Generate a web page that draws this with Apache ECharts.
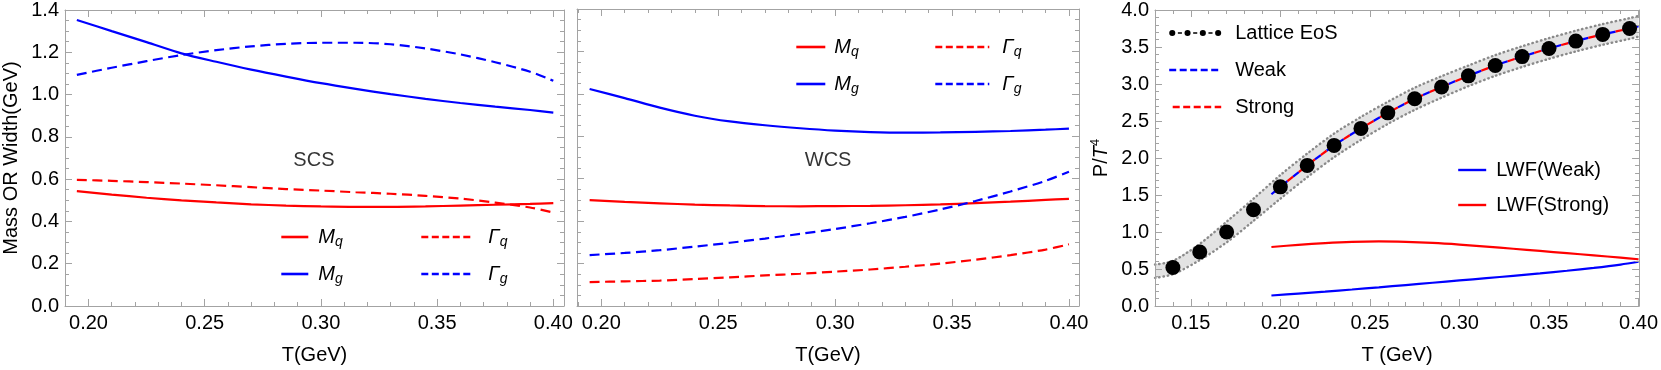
<!DOCTYPE html>
<html><head><meta charset="utf-8">
<script src="https://cdn.jsdelivr.net/npm/echarts@6/dist/echarts.min.js"></script>
<style>html,body{margin:0;padding:0;background:#fff}#c{width:1661px;height:370px}</style>
</head><body><div id="c"></div>
<script>
// ---------- data ----------
const tCurve = [0.195,0.21,0.225,0.24,0.255,0.27,0.285,0.30,0.315,0.33,0.345,0.36,0.375,0.39,0.40];
// SCS panel
const scsMq = [0.543,0.527,0.512,0.500,0.490,0.481,0.475,0.471,0.469,0.469,0.471,0.475,0.479,0.483,0.487];
const scsMg = [1.353,1.300,1.248,1.195,1.155,1.118,1.085,1.054,1.027,1.002,0.980,0.960,0.943,0.927,0.915];
const scsGq = [0.597,0.592,0.586,0.579,0.571,0.562,0.553,0.546,0.538,0.531,0.521,0.508,0.489,0.466,0.442];
const scsGg = [1.093,1.127,1.158,1.187,1.210,1.228,1.240,1.245,1.245,1.238,1.218,1.190,1.153,1.108,1.065];
// WCS panel
const wcsMq = [0.499,0.491,0.484,0.478,0.474,0.471,0.470,0.471,0.472,0.475,0.479,0.485,0.492,0.500,0.505];
const wcsMg = [1.023,0.980,0.935,0.897,0.870,0.852,0.838,0.827,0.820,0.817,0.818,0.821,0.825,0.831,0.836];
const wcsGq = [0.113,0.116,0.120,0.127,0.135,0.144,0.152,0.162,0.172,0.185,0.200,0.218,0.240,0.266,0.291];
const wcsGg = [0.240,0.250,0.263,0.280,0.298,0.318,0.340,0.363,0.390,0.420,0.455,0.495,0.540,0.590,0.633];
// EoS panel
const latticeT = [0.14,0.155,0.17,0.185,0.20,0.215,0.23,0.245,0.26,0.275,0.29,0.305,0.32,0.335,0.35,0.365,0.38,0.395];
const latticeP = [0.52,0.73,1.00,1.30,1.61,1.90,2.17,2.40,2.61,2.80,2.96,3.11,3.25,3.37,3.48,3.58,3.67,3.75];
const bandT    = [0.13,0.14,0.155,0.17,0.185,0.20,0.215,0.23,0.245,0.26,0.275,0.29,0.305,0.32,0.335,0.35,0.365,0.38,0.395,0.40];
const bandHigh = [0.56,0.61,0.84,1.14,1.45,1.77,2.06,2.33,2.555,2.76,2.95,3.105,3.25,3.39,3.51,3.62,3.72,3.81,3.89,3.92];
const bandLow  = [0.38,0.43,0.62,0.86,1.15,1.45,1.74,2.01,2.245,2.46,2.65,2.815,2.97,3.11,3.23,3.34,3.44,3.53,3.61,3.64];
const fitT    = [0.195,0.20,0.215,0.23,0.245,0.26,0.275,0.29,0.305,0.32,0.335,0.35,0.365,0.38,0.395,0.40];
const weakP   = [1.51,1.61,1.90,2.17,2.40,2.61,2.80,2.96,3.11,3.25,3.37,3.48,3.58,3.67,3.75,3.78];
const strongP = [1.51,1.61,1.90,2.17,2.40,2.61,2.80,2.96,3.11,3.25,3.37,3.48,3.58,3.67,3.75,3.78];
const lwfWeak   = [0.142,0.168,0.195,0.223,0.252,0.283,0.314,0.345,0.376,0.408,0.440,0.476,0.515,0.560,0.598];
const lwfStrong = [0.797,0.827,0.850,0.866,0.872,0.866,0.852,0.830,0.803,0.774,0.744,0.714,0.684,0.653,0.632];
// annotation positions (data coords)
const annT = [0.297], annY = [0.688];
// ticks
const xTicksMass = [0.20,0.25,0.30,0.35,0.40];
const xMinorMass = [0.19,0.21,0.22,0.23,0.24,0.26,0.27,0.28,0.29,0.31,0.32,0.33,0.34,0.36,0.37,0.38,0.39];
const xTicksEoS  = [0.15,0.20,0.25,0.30,0.35,0.40];
const xMinorEoS  = [0.13,0.14,0.16,0.17,0.18,0.19,0.21,0.22,0.23,0.24,0.26,0.27,0.28,0.29,0.31,0.32,0.33,0.34,0.36,0.37,0.38,0.39];
const yTicksMass = [0.0,0.2,0.4,0.6,0.8,1.0,1.2,1.4];
const yTicksEoS  = [0.0,0.5,1.0,1.5,2.0,2.5,3.0,3.5,4.0];

// ---------- styling ----------
const FONT = 'Liberation Sans, Arial, Helvetica, sans-serif';
const FRAME = '#a3a3a3';
const RED = '#ff0000', BLUE = '#0000ff';
const DASH = [10, 5.5];
const TICKFONT = 20;

const zip = (xs, ys) => xs.map((x, i) => [x, ys[i]]);

function xAxes(gi, min, max, major, minor, name) {
  const base = {type:'value', gridIndex:gi, min, max, splitLine:{show:false}, z:5};
  const tickStyle = {color:FRAME, width:1};
  return [
    Object.assign({}, base, {position:'bottom',
      axisLine:{show:true, lineStyle:{color:FRAME, width:1}},
      axisTick:{show:true, inside:true, length:7, customValues:major, lineStyle:tickStyle},
      axisLabel:{show:true, customValues:major, formatter:v=>v.toFixed(2), fontSize:TICKFONT, fontFamily:FONT, color:'#000', margin:7},
      name, nameLocation:'middle', nameGap:39, nameTextStyle:{fontSize:20, fontFamily:FONT, color:'#000'}}),
    Object.assign({}, base, {position:'bottom', axisLine:{show:false},
      axisTick:{show:true, inside:true, length:4, customValues:minor, lineStyle:tickStyle},
      axisLabel:{show:false}}),
    Object.assign({}, base, {position:'top',
      axisLine:{show:true, lineStyle:{color:FRAME, width:1}},
      axisTick:{show:true, inside:true, length:7, customValues:major, lineStyle:tickStyle},
      axisLabel:{show:false}}),
    Object.assign({}, base, {position:'top', axisLine:{show:false},
      axisTick:{show:true, inside:true, length:4, customValues:minor, lineStyle:tickStyle},
      axisLabel:{show:false}})
  ];
}
function yAxes(gi, ticks, minorSplit, showLabels, name, nameGap, nameRich) {
  const base = {type:'value', gridIndex:gi, min:ticks[0], max:ticks[ticks.length-1],
    interval:ticks[1]-ticks[0], splitLine:{show:false}, minorSplitLine:{show:false}, z:5,
    axisLine:{show:true, lineStyle:{color:FRAME, width:1}},
    axisTick:{show:true, inside:true, length:7, lineStyle:{color:FRAME, width:1}},
    minorTick:{show:true, splitNumber:minorSplit, length:4, lineStyle:{color:FRAME, width:1}}};
  const left = Object.assign({}, base, {position:'left',
    axisLabel:{show:showLabels, formatter:v=>v.toFixed(1), fontSize:TICKFONT, fontFamily:FONT, color:'#000', margin:6}});
  if (name) {
    Object.assign(left, {name, nameLocation:'middle', nameGap, nameRotate:90,
      nameTextStyle:{fontSize:20, fontFamily:FONT, color:'#000', rich:nameRich||{}}});
  }
  const right = Object.assign({}, base, {position:'right', axisLabel:{show:false}});
  return [left, right];
}

const LBL = {'Mq':'{i|M}{s|q}', 'Mg':'{i|M}{s|g}', 'Γq':'{i|Γ}{s|q}', 'Γg':'{i|Γ}{s|g}'};
function legend(left, top, data, w, gap, pad, lineStyle) {
  return {show:true, orient:'vertical', left, top, padding:0, itemGap:gap, itemWidth:w, itemHeight:10,
    selectedMode:false, data, formatter:n=>'{p|}' + (LBL[n] || n), lineStyle,
    itemStyle:{opacity:0},
    textStyle:{fontSize:20, fontFamily:FONT, color:'#000', lineHeight:24,
      rich:{p:{width:pad},
        i:{fontSize:20, fontStyle:'italic', lineHeight:24, fontFamily:FONT, color:'#000'},
        s:{fontSize:14, fontStyle:'italic', lineHeight:14, verticalAlign:'bottom', fontFamily:FONT, color:'#000'}}}};
}
const LATTICE_ICON = 'path://M0,3a3,3 0 1,0 6,0a3,3 0 1,0 -6,0Z M15,3a3,3 0 1,0 6,0a3,3 0 1,0 -6,0Z M30,3a3,3 0 1,0 6,0a3,3 0 1,0 -6,0Z M45,3a3,3 0 1,0 6,0a3,3 0 1,0 -6,0Z M8.5,2.3h4v1.4h-4Z M23.5,2.3h4v1.4h-4Z M38.5,2.3h4v1.4h-4Z';

function line(name, xi, yi, xs, ys, color, type, extra) {
  return Object.assign({type:'line', name, xAxisIndex:xi, yAxisIndex:yi, data:zip(xs, ys),
    symbol:'none', smooth:0.3, clip:true, z:3, silent:true,
    lineStyle:{color, width:2.2, type}, itemStyle:{color}}, extra||{});
}
function annotation(text, xi, yi) {
  return {type:'scatter', xAxisIndex:xi, yAxisIndex:yi, data:zip(annT, annY), symbolSize:1, silent:true,
    itemStyle:{color:'rgba(0,0,0,0)'},
    label:{show:true, position:'inside', formatter:text, fontSize:20, fontFamily:FONT, color:'#000'}};
}

const option = {
  animation:false,
  backgroundColor:'#fff',
  grid:[
    {left:62, top:9, width:502, height:301},
    {left:577, top:9, width:502, height:301},
    {left:1155, top:9, width:501, height:301}
  ],
  xAxis:[].concat(
    xAxes(0, 0.1899, 0.4046, xTicksMass, xMinorMass, 'T(GeV)'),
    xAxes(1, 0.1896, 0.4043, xTicksMass, xMinorMass, 'T(GeV)'),
    xAxes(2, 0.1300, 0.4003, xTicksEoS, xMinorEoS, 'T (GeV)')
  ),
  yAxis:[].concat(
    yAxes(0, yTicksMass, 4, true, 'Mass OR Width(GeV)', 44),
    yAxes(1, yTicksMass, 4, false),
    yAxes(2, yTicksEoS, 5, true, '{r|P/}{t|T}{u|4}', 42, {
      r:{fontSize:20, lineHeight:24, fontFamily:FONT, color:'#000'},
      t:{fontSize:20, lineHeight:24, fontStyle:'italic', fontFamily:FONT, color:'#000'},
      u:{fontSize:13, lineHeight:14, verticalAlign:'top', fontFamily:FONT, color:'#000'}})
  ),
  legend:[
    legend(280, 225, ['Mq','Mg'], 27, 13, 5, {width:2.6}),
    legend(420, 225, ['Γq','Γg'], 52, 13, 10, {width:2.6, type:[7,3.5]}),
    legend(795, 35, ['Mq','Mg'], 29, 13, 4, {width:2.6}),
    legend(934, 35, ['Γq','Γg'], 54, 13, 8, {width:2.6, type:[7,3.5]}),
    legend(1168, 21, [{name:'Lattice EoS', icon:LATTICE_ICON, itemStyle:{opacity:1, color:'#000'}}, 'Weak', 'Strong'], 52, 13, 9, {width:2.4, type:[7,3.5]}),
    legend(1457, 158, ['LWF(Weak)','LWF(Strong)'], 28, 11, 5, {width:2.4})
  ],
  series:[
    // SCS
    line('Mq', 0, 0, tCurve, scsMq, RED, 'solid'),
    line('Mg', 0, 0, tCurve, scsMg, BLUE, 'solid'),
    line('Γq', 0, 0, tCurve, scsGq, RED, DASH),
    line('Γg', 0, 0, tCurve, scsGg, BLUE, DASH),
    annotation('SCS', 0, 0),
    // WCS
    line('Mq', 4, 2, tCurve, wcsMq, RED, 'solid'),
    line('Mg', 4, 2, tCurve, wcsMg, BLUE, 'solid'),
    line('Γq', 4, 2, tCurve, wcsGq, RED, DASH),
    line('Γg', 4, 2, tCurve, wcsGg, BLUE, DASH),
    annotation('WCS', 4, 2),
    // EoS band
    {type:'custom', xAxisIndex:8, yAxisIndex:4, data:[[bandT[0], bandLow[0]]], silent:true, z:1, clip:true,
      renderItem:function(params, api){
        const pts = [];
        for (let i = 0; i < bandT.length; i++) pts.push(api.coord([bandT[i], bandHigh[i]]));
        for (let i = bandT.length - 1; i >= 0; i--) pts.push(api.coord([bandT[i], bandLow[i]]));
        return {type:'polygon', shape:{points:pts}, style:{fill:'#e3e3e3', stroke:null}};
      }},
    line('bandHigh', 8, 4, bandT, bandHigh, '#8a8a8a', [0.5, 3.8], {z:2, lineStyle:{color:'#8a8a8a', width:2.4, type:[0.5,3.8], cap:'round'}}),
    line('bandLow', 8, 4, bandT, bandLow, '#8a8a8a', [0.5, 3.8], {z:2, lineStyle:{color:'#8a8a8a', width:2.4, type:[0.5,3.8], cap:'round'}}),
    line('Weak', 8, 4, fitT, weakP, BLUE, [7,7], {z:3, lineStyle:{color:BLUE, width:2.2, type:[7,7]}}),
    line('Strong', 8, 4, fitT, strongP, RED, [7,7], {z:3, lineStyle:{color:RED, width:2.2, type:[7,7], dashOffset:7}}),
    {type:'scatter', name:'Lattice EoS', xAxisIndex:8, yAxisIndex:4, data:zip(latticeT, latticeP),
      symbol:'circle', symbolSize:15, itemStyle:{color:'#000', opacity:1}, z:6, silent:true},
    line('LWF(Weak)', 8, 4, tCurve, lwfWeak, BLUE, 'solid'),
    line('LWF(Strong)', 8, 4, tCurve, lwfStrong, RED, 'solid')
  ]
};
const chart = echarts.init(document.getElementById('c'), null, {renderer:'canvas', width:1661, height:370});
chart.setOption(option);
</script></body></html>
